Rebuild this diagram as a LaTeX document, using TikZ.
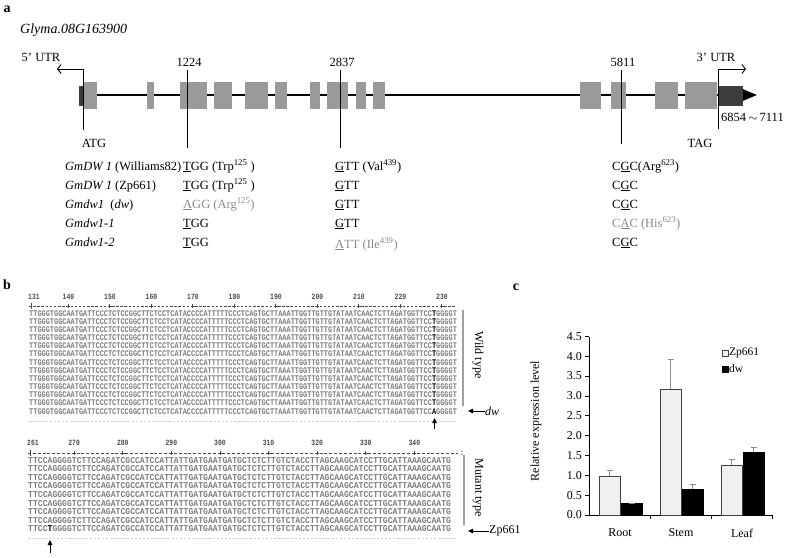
\documentclass[tikz,border=0pt]{standalone}
\usepackage{fontspec}
\setmainfont{Liberation Serif}
\newfontfamily\seqfont{Liberation Mono}[FakeStretch=0.8]
\newfontfamily\seqwidefont{Liberation Mono}[FakeStretch=0.9]
\usetikzlibrary{arrows.meta,positioning,calc}
\definecolor{GeneExon}{HTML}{9A9A9A}
\definecolor{GeneUtr}{HTML}{3C3C3C}
\definecolor{SeqGray}{HTML}{7D7D7D}
\definecolor{RulerGray}{HTML}{4A4A4A}
\definecolor{MarkGray}{HTML}{A0A0A0}
\definecolor{MutGray}{HTML}{8A8A8A}
\definecolor{BarLight}{HTML}{F0F0F0}
\definecolor{BarEdge}{HTML}{404040}
\definecolor{ErrGray}{HTML}{8C8C8C}

\newcommand{\seqWT}{TTGGGTGGCAATGATTCCCTCTCCGGCTTCTCCTCATACCCCATTTTTCCCTCAGTGCTTAAATTGGTTGTTGTATAATCAACTCTTAGATGGTTCC}
\newcommand{\seqWTend}{GGGGT}
\newcommand{\seqMT}{GGGGTCTTCCAGATCGCCATCCATTATTGATGAATGATGCTCTCTTGTCTACCTTAGCAAGCATCCTTGCATTAAAGCAATG}

\begin{document}
\begin{tikzpicture}[x=1pt,y=-1pt,
    panel/.style={font=\fontsize{14}{14}\selectfont\bfseries,inner sep=0pt},
    txt/.style={font=\fontsize{12.5}{14}\selectfont,inner sep=0pt},
    rowname/.style={txt,anchor=base west},
    codon/.style={txt,anchor=base west},
    exon/.style={fill=GeneExon},
    utr/.style={fill=GeneUtr},
    siteline/.style={line width=1pt},
    utrarr/.style={-{Straight Barb[length=3.5pt,width=9pt]},line width=0.9pt},
    seqtop/.style={font=\seqfont\bfseries\fontsize{8.65}{8.65}\selectfont,text=SeqGray,inner sep=0pt,text height=5pt,text depth=0pt,anchor=base west},
    seqbot/.style={font=\seqwidefont\bfseries\fontsize{9}{9}\selectfont,text=SeqGray,inner sep=0pt,text height=6pt,text depth=0pt,anchor=base west},
    rulerlab/.style={font=\seqfont\bfseries\fontsize{8}{8}\selectfont,text=RulerGray,inner sep=0pt,anchor=base},
    rulerline/.style={RulerGray,line width=0.6pt},
    rulertick/.style={RulerGray,line width=0.9pt},
    faint/.style={MarkGray!50,line width=0.5pt,dash pattern=on 2.5pt off 1.6pt},
    groupbar/.style={MarkGray,line width=1.6pt},
    grouplab/.style={font=\fontsize{12}{12}\selectfont,inner sep=0pt,rotate=-90},
    ptr/.style={-{Triangle[length=5pt,width=4.5pt]},line width=1pt},
    zpbar/.style={fill=BarLight,draw=BarEdge,line width=0.8pt},
    dwbar/.style={fill=black,draw=black,line width=0.8pt},
    errbar/.style={ErrGray,line width=0.9pt},
    axlab/.style={font=\fontsize{12}{12}\selectfont,inner sep=0pt}
  ]
  \useasboundingbox (0,0) rectangle (787,557);

  % ---- panel a: gene model
  \node[panel] (pa) at (7,9) {a};
  \node[txt,font=\fontsize{14}{14}\selectfont\itshape,anchor=base west] (gene) at (20,33) {Glyma.08G163900};
  \coordinate (gL) at (80,95);
  \coordinate (gR) at (757,95);
  \draw[line width=2.4pt,-{Triangle[length=14pt,width=11pt]}] (gL) -- (gR);
  \foreach \xa/\xb in {83/97,147/154,180/207,214/232,245/268,275/287,310/320,327/348,356/366,373/385,580/601,611/626,655/678,685/717}
    \fill[exon] (\xa,82) rectangle (\xb,109);
  \fill[utr] (79,86) rectangle (83,106);
  \fill[utr] (719,86) rectangle (743,106);

  % sites
  \foreach \nm/\xx/\yb in {1224/187/148,2837/340/148,5811/621/144}{
    \node[txt] (n\nm) at (\xx+2,62) {\nm};
    \draw[siteline] (\xx,70) -- (\xx,\yb);
  }
  \node[txt] (u5) at (41,57) {5’ UTR};
  \node[txt] (u3) at (716,57) {3’ UTR};
  \coordinate (atgB) at (83,130);
  \coordinate (tagB) at (718,129);
  \draw[utrarr] (atgB) -- (83,69) -- (57,69);
  \draw[utrarr] (tagB) -- (718,69) -- (746,69);
  \node[txt] (atg) at (94,143) {ATG};
  \node[txt] (tag) at (700,143) {TAG};
  \node[txt,anchor=west] (span) at (721,117) {6854\,$\sim$\,7111};

  % allele table
  \node[rowname] (r1n) at (65,170) {\textit{GmDW 1} (Williams82)};
  \node[codon] (r1a) at (183,170) {\underline{T}GG (Trp\textsuperscript{125} )};
  \node[codon] (r1b) at (335,170) {\underline{G}TT (Val\textsuperscript{439})};
  \node[codon] (r1c) at (612,170) {C\underline{G}C(Arg\textsuperscript{623})};
  \node[rowname] (r2n) at (65,189) {\textit{GmDW 1} (Zp661)};
  \node[codon] (r2a) at (183,189) {\underline{T}GG (Trp\textsuperscript{125} )};
  \node[codon] (r2b) at (335,189) {\underline{G}TT};
  \node[codon] (r2c) at (612,189) {C\underline{G}C};
  \node[rowname] (r3n) at (65,208) {\textit{Gmdw1}\ \ (\textit{dw})};
  \node[codon,text=MutGray] (r3a) at (183,208) {\underline{A}GG (Arg\textsuperscript{125})};
  \node[codon] (r3b) at (335,208) {\underline{G}TT};
  \node[codon] (r3c) at (612,208) {C\underline{G}C};
  \node[rowname] (r4n) at (65,227) {\textit{Gmdw1-1}};
  \node[codon] (r4a) at (183,227) {\underline{T}GG};
  \node[codon] (r4b) at (335,227) {\underline{G}TT};
  \node[codon,text=MutGray] (r4c) at (612,227) {C\underline{A}C (His\textsuperscript{623})};
  \node[rowname] (r5n) at (65,246) {\textit{Gmdw1-2}};
  \node[codon] (r5a) at (183,246) {\underline{T}GG};
  \node[codon,text=MutGray] (r5b) at (335,248) {\underline{A}TT (Ile\textsuperscript{439})};
  \node[codon] (r5c) at (612,246) {C\underline{G}C};

  % ---- panel b: alignments
  \node[panel] (pb) at (7,285) {b};
  % upper block, 131-233
  \node[rulerlab,anchor=base west] (t131) at (28,299) {131};
  \foreach \p in {140,150,...,230}
    \node[rulerlab] (t\p) at ({29+(\p-131+0.5)*4.15},299) {\p};
  \draw[rulerline,dash pattern=on 2.5pt off 1.65pt] (29,306) -- (456,306);
  \draw[rulertick] (31,302.5) -- (31,309);
  \foreach \p in {140,150,...,230}{
    \draw[rulertick] ({29+(\p-131+0.5)*4.15},304) -- ++(0,4);
    \draw[rulertick] ({29+(\p-131+0.5)*4.15-1.8},306) -- ++(3.6,0);
  }
  \foreach \i in {0,...,11}
    \node[seqtop] (wt\i) at (29,{316+8.17*\i}) {\seqWT{\color{black}T}\seqWTend};
  \node[seqtop] (dwrow) at (29,414) {\seqWT{\color{black}A}\seqWTend};
  \draw[faint] (29,421) -- (456,421);
  \draw[groupbar] (463,310) -- (463,406);
  \node[grouplab] (wtlab) at (478,355) {Wild type};
  \node[txt,font=\fontsize{12}{12}\selectfont\itshape,anchor=west] (dwlab) at (485,411) {dw};
  \draw[ptr] (dwlab.west) -- ++(-17,0);
  \coordinate (upA) at (434.6,429);
  \coordinate (upAt) at (434.6,418);
  \draw[ptr] (upA) -- (upAt);

  % lower block, 261-348
  \node[rulerlab,anchor=base west] (t261) at (27,445) {261};
  \foreach \p in {270,280,...,340}
    \node[rulerlab] (t\p) at ({28+(\p-261+0.5)*4.86},445) {\p};
  \draw[rulerline,dash pattern=on 3pt off 1.86pt] (28,453) -- (458,453);
  \draw[rulertick] (30.5,449.5) -- (30.5,456);
  \foreach \p in {270,280,...,340}{
    \draw[rulertick] ({28+(\p-261+0.5)*4.86},451) -- ++(0,4);
    \draw[rulertick] ({28+(\p-261+0.5)*4.86-2},453) -- ++(4,0);
  }
  \node[rulerlab] (t350) at (462,455) {:};
  \foreach \i in {0,...,7}
    \node[seqbot] (mt\i) at (28,{463+8.6*\i}) {TTCCA\seqMT};
  \node[seqbot] (zprow) at (28,531.8) {TTCC{\color{black}T}\seqMT};
  \draw[faint] (28,538) -- (456,538);
  \draw[groupbar] (464,455) -- (464,525);
  \node[grouplab] (mtlab) at (478,488) {Mutant type};
  \node[txt,font=\fontsize{12}{12}\selectfont,anchor=west] (zplab) at (489,531) {Zp661};
  \draw[ptr] (zplab.west) -- ++(-21,0);
  \coordinate (upB) at (50,553);
  \coordinate (upBt) at (50,540);
  \draw[ptr] (upB) -- (upBt);

  % ---- panel c: expression
  \node[panel] (pc) at (516,287) {c};
  \draw[line width=0.9pt] (589,337) -- (589,515) -- (772,515);
  \foreach \t [count=\k from 0] in {0.0,0.5,1.0,1.5,2.0,2.5,3.0,3.5,4.0,4.5}{
    \draw[line width=0.8pt] (589,{515-19.85*\k}) -- ++(-4,0);
    \node[axlab,anchor=east] (yt\k) at (582,{515-19.85*\k}) {\t};
  }
  \foreach \xx in {650,711,772}
    \draw[line width=0.8pt] (\xx,515) -- ++(0,4);
  \node[axlab,rotate=90] (ylab) at (536,421) {Relative expression level};
  \foreach \c/\za/\ze/\da/\de/\cat in {620/0.97/1.13/0.28/0.28/Root,681/3.17/3.93/0.65/0.76/Stem,742/1.25/1.41/1.58/1.71/Leaf}{
    \filldraw[zpbar] (\c-21,515) rectangle (\c,{515-39.7*\za});
    \filldraw[dwbar] (\c+1,515) rectangle (\c+22,{515-39.7*\da});
    \draw[errbar] (\c-10.5,{515-39.7*\za}) -- (\c-10.5,{515-39.7*\ze});
    \draw[errbar] (\c-13.5,{515-39.7*\ze}) -- (\c-7.5,{515-39.7*\ze});
    \draw[errbar] (\c+11.5,{515-39.7*\da}) -- (\c+11.5,{515-39.7*\de});
    \draw[errbar] (\c+8.5,{515-39.7*\de}) -- (\c+14.5,{515-39.7*\de});
    \node[axlab] (cat\cat) at (\c,533) {\cat};
  }
  % legend
  \filldraw[zpbar,line width=0.6pt] (722,350) rectangle (728,356);
  \node[axlab,font=\fontsize{11.5}{12}\selectfont,anchor=west] (legzp) at (729,353) {Zp661};
  \filldraw[dwbar,line width=0.6pt] (722,366) rectangle (728,372);
  \node[axlab,font=\fontsize{11.5}{12}\selectfont,anchor=west] (legdw) at (729,369) {dw};
\end{tikzpicture}
\end{document}
